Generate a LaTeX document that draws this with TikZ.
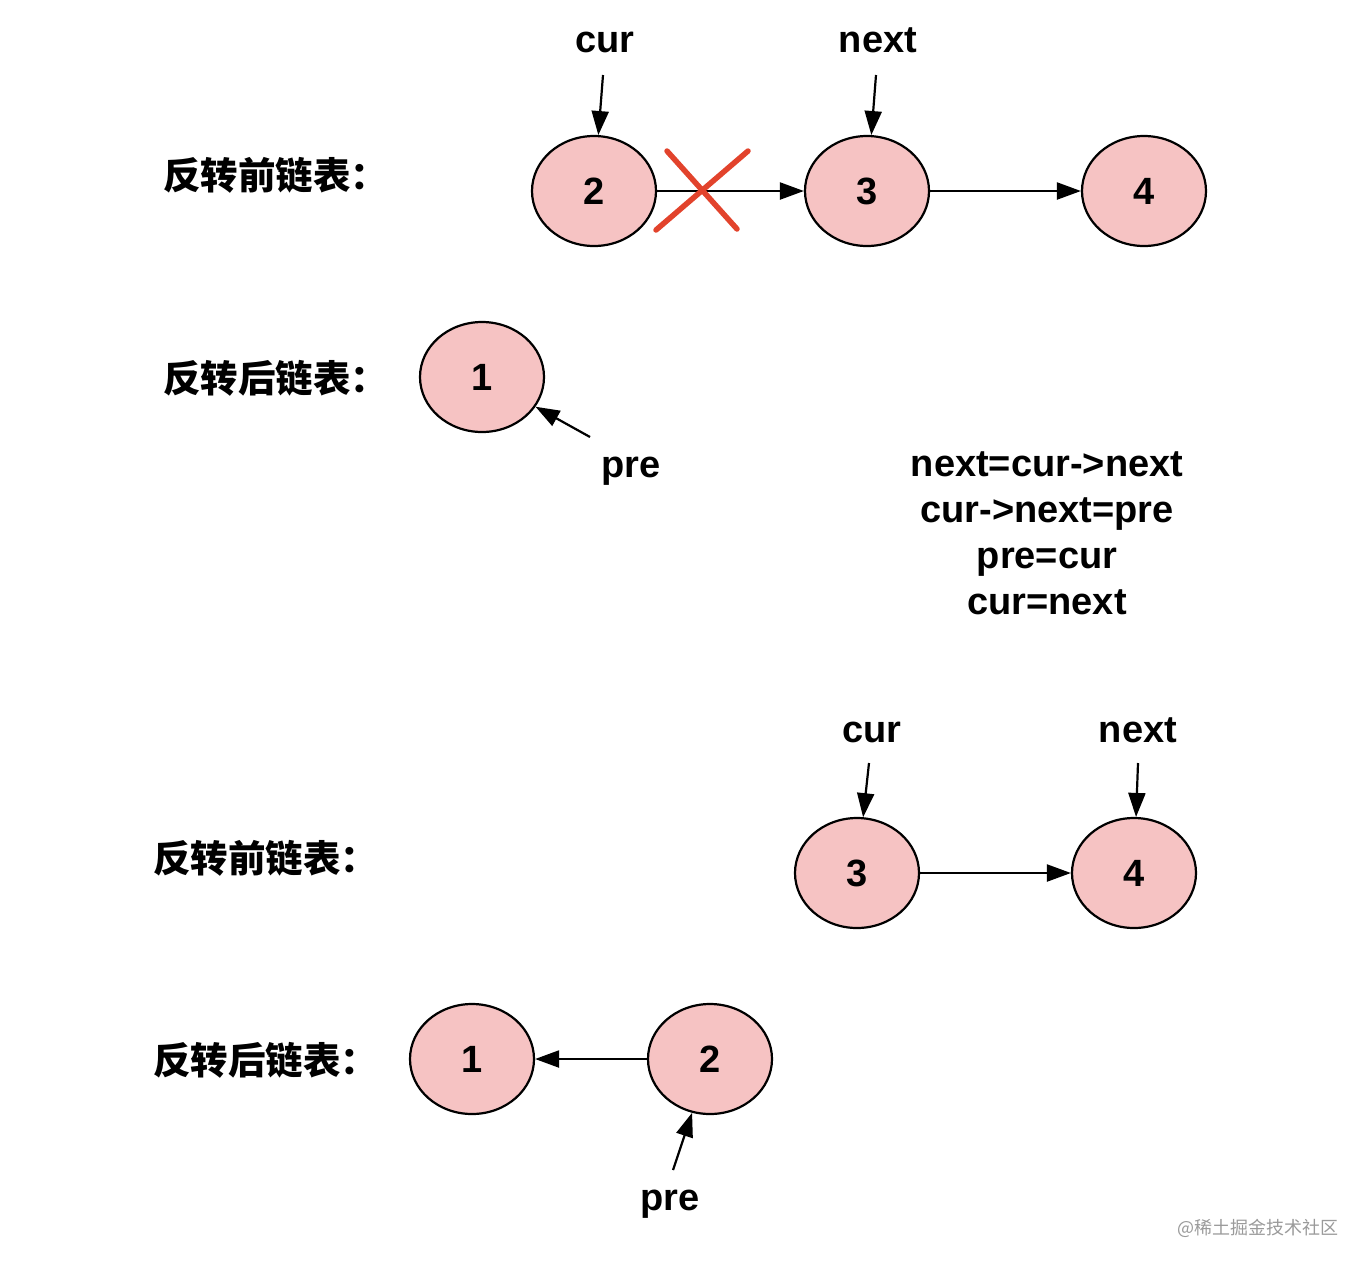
\documentclass[tikz,border=0pt]{standalone}
\usepackage{fontspec}
\setmainfont{Liberation Sans}
\newfontfamily\cjk{Noto Sans CJK SC}
\usetikzlibrary{shapes.geometric,arrows.meta}
\definecolor{nodepink}{HTML}{F6C3C3}
\definecolor{xred}{HTML}{E2432C}
\definecolor{wmgray}{HTML}{9A9A9A}
\begin{document}
\begin{tikzpicture}[x=1pt,y=-1pt,
  lnode/.style={ellipse,draw=black,line width=2.2pt,fill=nodepink,minimum width=124pt,minimum height=110pt,inner sep=0pt,font=\fontsize{38}{40}\selectfont\bfseries},
  ptr/.style={font=\fontsize{38}{40}\selectfont\bfseries,inner sep=0pt,anchor=base},
  title/.style={font=\cjk\fontsize{37.5}{40}\selectfont\bfseries,inner sep=0pt,anchor=west},
  code/.style={font=\fontsize{38}{40}\selectfont\bfseries,inner sep=0pt,anchor=base},
  arr/.style={line width=2.2pt,-{Triangle[length=24pt,width=17pt]}},
  cross/.style={xred,line width=5.5pt,line cap=round}]
\useasboundingbox (0,0) rectangle (1370,1270);

% ---- section 1: before ----
\node[title] (t1) at (163,175) {反转前链表：};
\node[lnode] (a2) at (594,191) {2};
\node[lnode] (a3) at (867,191) {3};
\node[lnode] (a4) at (1144,191) {4};
\node[ptr] (acur) at (605,52) {cur};
\node[ptr] (anext) at (878,52) {next};
\coordinate (acurs) at (603,75);
\coordinate (anexts) at (876,75);
\draw[arr] (acurs) -- (a2);
\draw[arr] (anexts) -- (a3);
\draw[arr] (a2) -- (a3);
\draw[arr] (a3) -- (a4);
\coordinate (x1a) at (667,151);
\coordinate (x1b) at (737,229);
\coordinate (x2a) at (656,230);
\coordinate (x2b) at (748,151);
\draw[cross] (x1a) -- (x1b);
\draw[cross] (x2a) -- (x2b);

% ---- section 2: after ----
\node[title] (t2) at (163,378) {反转后链表：};
\node[lnode] (b1) at (482,377) {1};
\node[ptr] (bpre) at (631,477) {pre};
\coordinate (bpres) at (590,437);
\draw[arr] (bpres) -- (b1);

% ---- code ----
\node[code] (c1) at (1047,476) {next=cur->next};
\node[code] (c2) at (1047,522) {cur->next=pre};
\node[code] (c3) at (1047,568) {pre=cur};
\node[code] (c4) at (1047,614) {cur=next};

% ---- section 3: before ----
\node[title] (t3) at (153,858) {反转前链表：};
\node[lnode] (d3) at (857,873) {3};
\node[lnode] (d4) at (1134,873) {4};
\node[ptr] (dcur) at (872,742) {cur};
\node[ptr] (dnext) at (1138,742) {next};
\coordinate (dcurs) at (869,763);
\coordinate (dnexts) at (1138,763);
\draw[arr] (dcurs) -- (d3);
\draw[arr] (dnexts) -- (d4);
\draw[arr] (d3) -- (d4);

% ---- section 4: after ----
\node[title] (t4) at (153,1060) {反转后链表：};
\node[lnode] (e1) at (472,1059) {1};
\node[lnode] (e2) at (710,1059) {2};
\draw[arr] (e2) -- (e1);
\node[ptr] (epre) at (670,1210) {pre};
\coordinate (epres) at (673,1170);
\draw[arr] (epres) -- (e2);

% ---- watermark ----
\node[font=\cjk\fontsize{18}{22}\selectfont,text=wmgray,inner sep=0pt] (wm) at (1258,1228) {@稀土掘金技术社区};
\end{tikzpicture}
\end{document}
